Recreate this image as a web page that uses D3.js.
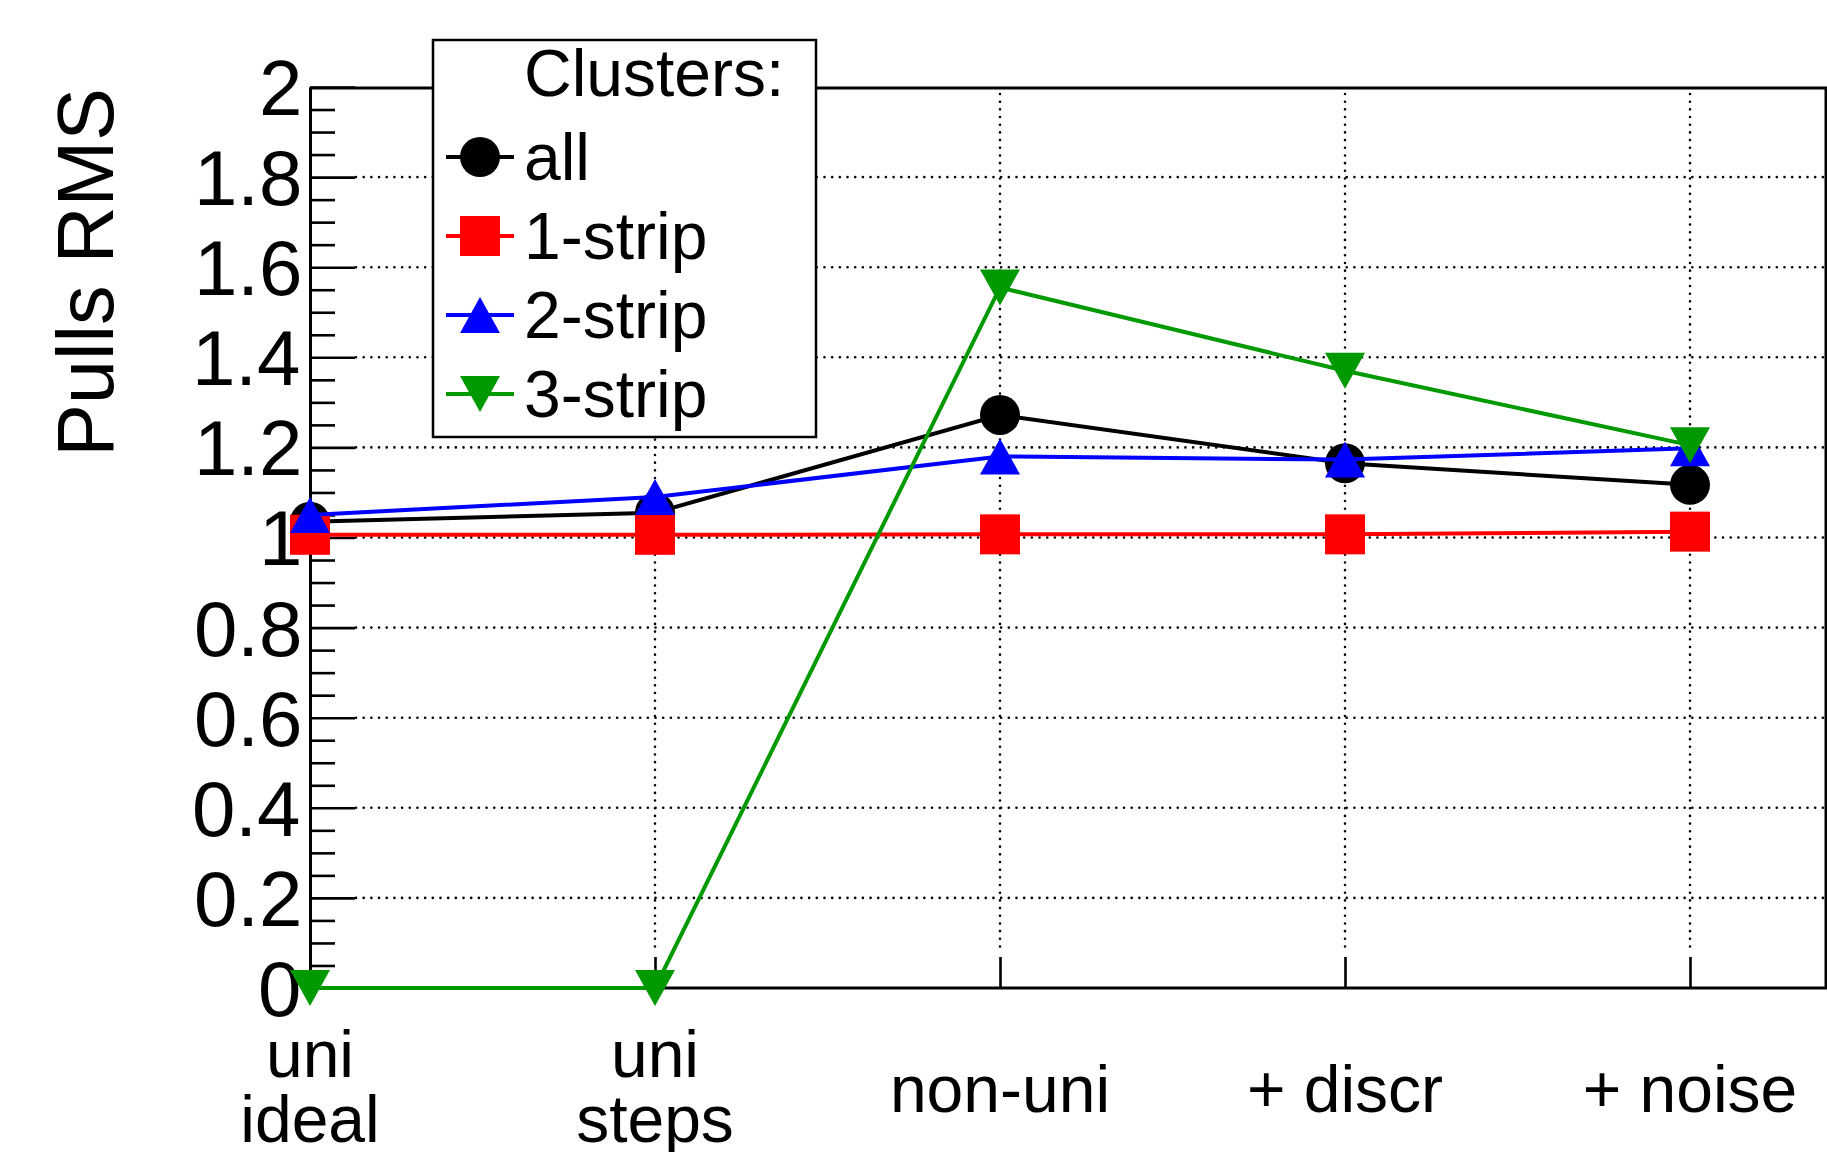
<!DOCTYPE html>
<html>
<head>
<meta charset="utf-8">
<script src="https://cdn.jsdelivr.net/npm/d3@7"></script>
<style>
  html, body { margin: 0; padding: 0; background: #fff; }
  svg { display: block; }
  text { font-family: "Liberation Sans", Arial, Helvetica, sans-serif; fill: #000; }
</style>
</head>
<body>
<svg id="chart" width="1827" height="1152"></svg>
<script>
// Categories along the x axis (multi-line labels split into lines)
const categories = [["uni", "ideal"], ["uni", "steps"], ["non-uni"], ["+ discr"], ["+ noise"]];

// Pulls RMS for each cluster class
const seriesNames = ["all", "1-strip", "2-strip", "3-strip"];
const valuesAll    = [1.035, 1.055, 1.272, 1.165, 1.117];
const values1Strip = [1.006, 1.006, 1.007, 1.007, 1.013];
const values2Strip = [1.050, 1.090, 1.180, 1.173, 1.198];
const values3Strip = [0, 0, 1.555, 1.370, 1.205];

// Axis ticks
const yMajorTicks = [0, 0.2, 0.4, 0.6, 0.8, 1, 1.2, 1.4, 1.6, 1.8, 2];
const yMinorTicks = d3.range(0, 41).filter(i => i % 4 !== 0).map(i => i * 0.05);

const yTitle = "Pulls RMS";
const legendTitle = "Clusters:";

const colors  = ["#000000", "#ff0000", "#0000ff", "#009900"];
const shapes  = ["circle", "square", "triangleUp", "triangleDown"];
const seriesValues = [valuesAll, values1Strip, values2Strip, values3Strip];

const FONT = '"Liberation Sans", Arial, Helvetica, sans-serif';

const svg = d3.select("#chart");

// Frame geometry
const frameLeft = 310, frameTop = 88, frameBottom = 988, frameRight = 1826;

const x = d3.scaleLinear().domain([0, categories.length - 1]).range([frameLeft, 1690]);
const y = d3.scaleLinear().domain([0, 2]).range([frameBottom, 87]);

// ---- dotted grid ----
const grid = svg.append("g")
  .attr("stroke", "#000")
  .attr("stroke-width", 2.6)
  .attr("stroke-linecap", "round")
  .attr("stroke-dasharray", "0.01 7.67");

grid.selectAll("line.h")
  .data(yMajorTicks.filter(v => v > 0 && v < 2))
  .join("line")
  .attr("class", "h")
  .attr("x1", frameLeft + 46).attr("x2", frameRight)
  .attr("y1", d => y(d)).attr("y2", d => y(d));

grid.selectAll("line.v")
  .data(d3.range(1, categories.length))
  .join("line")
  .attr("class", "v")
  .attr("x1", d => x(d)).attr("x2", d => x(d))
  .attr("y1", frameTop + 6).attr("y2", frameBottom - 34);

// ---- frame (top and right edges) ----
svg.append("path")
  .attr("d", `M${frameLeft},${frameTop}H${frameRight}V${frameBottom}`)
  .attr("fill", "none")
  .attr("stroke", "#000")
  .attr("stroke-width", 3);

// ---- y axis: ticks drawn inside the frame ----
const yAxisMajor = d3.axisLeft(y).tickValues(yMajorTicks).tickSize(-45).tickSizeOuter(0).tickFormat("");
const yAxisMinor = d3.axisLeft(y).tickValues(yMinorTicks).tickSize(-25).tickSizeOuter(0).tickFormat("");

const gyMinor = svg.append("g").attr("transform", `translate(${frameLeft},0)`).call(yAxisMinor);
const gyMajor = svg.append("g").attr("transform", `translate(${frameLeft},0)`).call(yAxisMajor);
[gyMinor, gyMajor].forEach(g => {
  g.select(".domain").attr("stroke", "#000").attr("stroke-width", 3);
  g.selectAll(".tick line").attr("stroke", "#000").attr("stroke-width", 2.6);
});

// ---- x axis ----
const xAxis = d3.axisBottom(x).tickValues(d3.range(categories.length)).tickSize(-31).tickSizeOuter(0).tickFormat("");
const gx = svg.append("g").attr("transform", `translate(0,${frameBottom})`).call(xAxis);
gx.select(".domain").attr("d", `M${frameLeft},0H${frameRight + 2}`).attr("stroke", "#000").attr("stroke-width", 3);
gx.selectAll(".tick line").attr("stroke", "#000").attr("stroke-width", 2.6);

// y tick labels, right edge of the ink aligned next to the axis
const measureCtx = document.createElement("canvas").getContext("2d");
const yLabelSize = 78;
measureCtx.font = `${yLabelSize}px ${FONT}`;
const fmt = d3.format("~g");
svg.append("g")
  .selectAll("text")
  .data(yMajorTicks)
  .join("text")
  .attr("font-size", yLabelSize)
  .attr("x", d => 299 - measureCtx.measureText(fmt(d)).actualBoundingBoxRight)
  .attr("y", d => y(d) + yLabelSize * 0.358)
  .text(d => fmt(d));

// x category labels
const xLabelSize = 66;
const xl = svg.append("g")
  .selectAll("text")
  .data(categories)
  .join("text")
  .attr("font-size", xLabelSize)
  .attr("text-anchor", "middle")
  .attr("x", (d, i) => x(i))
  .attr("y", d => d.length > 1 ? 1077 : 1112);
xl.selectAll("tspan")
  .data(d => d)
  .join("tspan")
  .attr("x", function () { return this.parentNode.getAttribute("x"); })
  .attr("dy", (d, i) => i === 0 ? 0 : 65)
  .text(d => d);

// y axis title
svg.append("text")
  .attr("font-size", 79)
  .attr("text-anchor", "end")
  .attr("transform", "translate(113,88) rotate(-90)")
  .text(yTitle);

// ---- markers ----
function drawMarker(g, shape, color, cx, cy) {
  if (shape === "circle") {
    g.append("circle").attr("cx", cx).attr("cy", cy).attr("r", 20).attr("fill", color);
  } else if (shape === "square") {
    g.append("rect").attr("x", cx - 20).attr("y", cy - 20).attr("width", 40).attr("height", 40).attr("fill", color);
  } else if (shape === "triangleUp") {
    g.append("path").attr("d", `M${cx - 20},${cy + 18}L${cx + 20},${cy + 18}L${cx},${cy - 18}Z`).attr("fill", color);
  } else {
    g.append("path").attr("d", `M${cx - 20},${cy - 18}L${cx + 20},${cy - 18}L${cx},${cy + 18}Z`).attr("fill", color);
  }
}

const line = d3.line().x((d, i) => x(i)).y(d => y(d));

seriesValues.forEach((vals, s) => {
  const g = svg.append("g");
  g.append("path")
    .attr("d", line(vals))
    .attr("fill", "none")
    .attr("stroke", colors[s])
    .attr("stroke-width", 4);
  vals.forEach((v, i) => drawMarker(g, shapes[s], colors[s], x(i), y(v)));
});

// ---- legend ----
const lg = svg.append("g");
lg.append("rect")
  .attr("x", 433).attr("y", 40).attr("width", 383).attr("height", 397)
  .attr("fill", "#fff").attr("stroke", "#000").attr("stroke-width", 2.5);
lg.append("text").attr("x", 524).attr("y", 96).attr("font-size", 66).text(legendTitle);

const rowY = d3.scaleLinear().domain([0, 3]).range([157, 394]);
seriesNames.forEach((name, s) => {
  const cy = rowY(s);
  lg.append("line")
    .attr("x1", 446).attr("x2", 514).attr("y1", cy).attr("y2", cy)
    .attr("stroke", colors[s]).attr("stroke-width", 4);
  drawMarker(lg, shapes[s], colors[s], 480, cy);
  lg.append("text").attr("x", 524).attr("y", cy + 23).attr("font-size", 66).text(name);
});
</script>
</body>
</html>
